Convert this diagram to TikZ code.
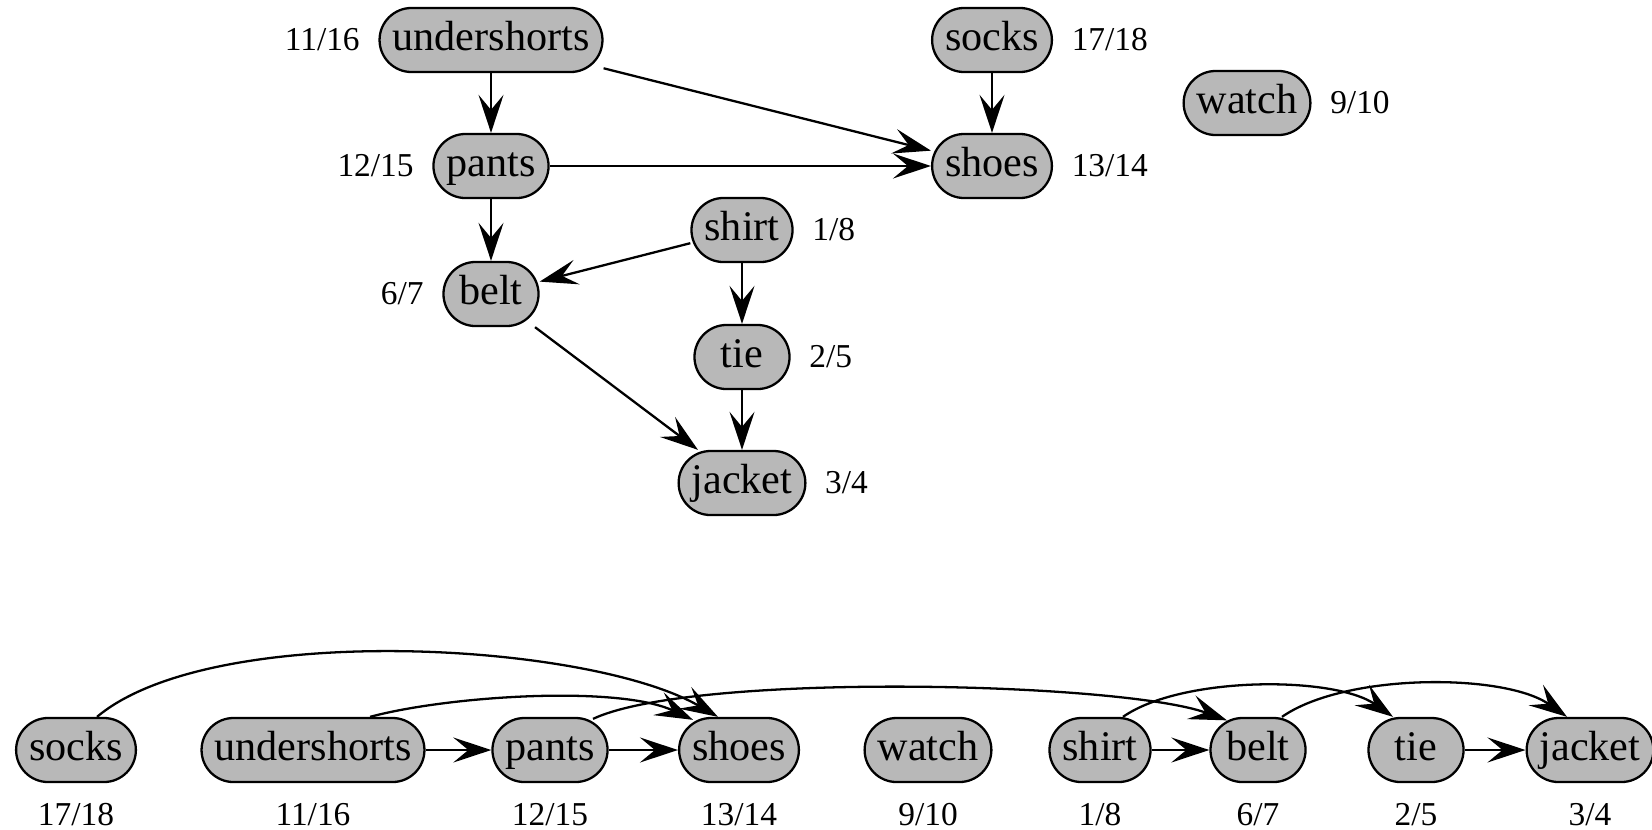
\documentclass[tikz,border=0pt]{standalone}
\usepackage{fontspec}
\setmainfont{Liberation Serif}
\usepackage{tikz}
\usetikzlibrary{positioning}
\usetikzlibrary{arrows.meta}
\definecolor{garment}{gray}{0.72}
\tikzstyle{vertex}=[rectangle,rounded corners=0.32cm,fill=garment,draw,line width=0.65pt,minimum height=0.64cm,minimum width=0.95cm,inner xsep=0.13cm,inner ysep=0pt,text height=0.29cm,text depth=0.09cm,font=\fontsize{12}{14}\selectfont]
\tikzstyle{stamp}=[inner sep=0pt,font=\fontsize{9.5}{11}\selectfont]
\tikzstyle{edge}=[draw,line width=0.65pt,-{Stealth[length=3.8mm,width=2.5mm,inset=1.5mm]}]

\begin{document}
\begin{tikzpicture}[x=0.01cm,y=0.01cm]
    \useasboundingbox (0,0) rectangle (1652,829);
    % Draw the dressing graph
    % First we draw the vertices
    \foreach \pos/\name in {{(491,789)/undershorts}, {(992,789)/socks}, {(1247,726)/watch}, {(491,663)/pants}, {(992,663)/shoes}, {(742,599)/shirt}, {(491,535)/belt}, {(742,472)/tie}, {(742,346)/jacket}}
            \node[vertex] (\name) at \pos {\name};

    % Then the discovery/finishing times next to them
    \foreach \name/\side/\fin in {undershorts/left/{11/16}, socks/right/{17/18}, watch/right/{9/10}, pants/left/{12/15}, shoes/right/{13/14}, shirt/right/{1/8}, belt/left/{6/7}, tie/right/{2/5}, jacket/right/{3/4}}
            \node[stamp, \side=0.18cm of \name] (\name-t) {\fin};

    % Connect vertices with edges
  \foreach \source/ \dest in {undershorts/pants, undershorts/shoes, pants/shoes, socks/shoes, pants/belt, shirt/belt, shirt/tie, belt/jacket, tie/jacket}
        \draw[edge] (\source) -- (\dest);

   % Draw the sorted order
    \foreach \pos/\name in {{(76,79)/socks}, {(313,79)/undershorts}, {(550,79)/pants}, {(739,79)/shoes}, {(928,79)/watch}, {(1100,79)/shirt}, {(1258,79)/belt}, {(1416,79)/tie}, {(1590,79)/jacket}}
            \node[vertex] (\name2) at \pos {\name};

    \foreach \name/\fin in {socks/{17/18}, undershorts/{11/16}, pants/{12/15}, shoes/{13/14}, watch/{9/10}, shirt/{1/8}, belt/{6/7}, tie/{2/5}, jacket/{3/4}}
            \node[stamp, below=0.19cm of \name2] (\name2-t) {\fin};

  \foreach \source/ \dest in {undershorts2/pants2, pants2/shoes2, shirt2/belt2, tie2/jacket2}
        \draw[edge] (\source) -- (\dest);

    % Edges that jump over the row
    \draw[edge] ([xshift=0.21cm]socks2.north) to[out=40,in=150,looseness=0.62] ([xshift=-0.21cm]shoes2.north);
    \draw[edge] ([xshift=0.57cm]undershorts2.north) to[out=15,in=155,looseness=0.65] ([xshift=-0.46cm,yshift=-0.03cm]shoes2.north);
    \draw[edge] ([xshift=0.43cm,yshift=-0.02cm]pants2.north) to[out=25,in=160,looseness=0.45] ([xshift=-0.31cm,yshift=-0.035cm]belt2.north);
    \draw[edge] ([xshift=0.23cm]shirt2.north) to[out=35,in=145,looseness=0.68] ([xshift=-0.23cm]tie2.north);
    \draw[edge] ([xshift=0.24cm]belt2.north) to[out=35,in=145,looseness=0.69] ([xshift=-0.23cm]jacket2.north);
\end{tikzpicture}
\end{document}
